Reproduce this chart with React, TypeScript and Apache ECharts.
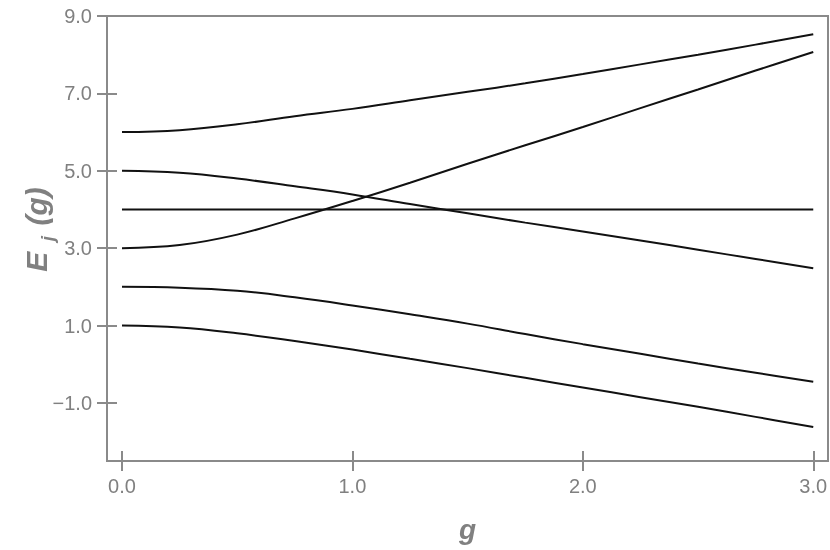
import React, { useEffect, useRef } from "react";
import * as echarts from "echarts";

const gValues = [0, 0.25, 0.5, 0.75, 1, 1.25, 1.5, 1.75, 2, 2.25, 2.5, 2.75, 3];
const level1 = [1.0, 0.95, 0.8, 0.6, 0.38, 0.14, -0.1, -0.35, -0.6, -0.85, -1.1, -1.36, -1.62];
const level2 = [2.0, 1.98, 1.9, 1.73, 1.52, 1.29, 1.05, 0.78, 0.52, 0.27, 0.02, -0.22, -0.45];
const level3 = [3.0, 3.08, 3.35, 3.77, 4.22, 4.69, 5.18, 5.66, 6.13, 6.62, 7.1, 7.59, 8.07];
const level4 = [4, 4, 4, 4, 4, 4, 4, 4, 4, 4, 4, 4, 4];
const level5 = [5.0, 4.95, 4.8, 4.6, 4.39, 4.14, 3.9, 3.66, 3.43, 3.2, 2.96, 2.72, 2.48];
const level6 = [6.0, 6.05, 6.2, 6.41, 6.6, 6.82, 7.04, 7.26, 7.5, 7.75, 8.0, 8.26, 8.53];
const levels = [level1, level2, level3, level4, level5, level6];

const xTicks = [0, 1, 2, 3];
const yTicks = [-1, 1, 3, 5, 7, 9];

const GRAY = "#808080";
const AXIS = "#8a8a8a";
const FONT = "Liberation Sans, Arial, sans-serif";

function fmt(v: number) {
  const s = Math.abs(v).toFixed(1);
  return v < 0 ? "\u2212" + s : s;
}

export default function App() {
  const ref = useRef<HTMLDivElement>(null);
  useEffect(() => {
    if (!ref.current) return;
    const chart = echarts.init(ref.current, undefined, { renderer: "svg" });
    const tickStyle = { color: AXIS, width: 2 };
    const titleFont = {
      color: GRAY,
      fontSize: 30,
      fontWeight: "bold",
      fontStyle: "italic",
      fontFamily: FONT,
    };
    chart.setOption({
      animation: false,
      grid: {
        left: 107,
        top: 16,
        right: 2,
        bottom: 89,
        containLabel: false,
        outerBoundsMode: "none",
        show: true,
        borderColor: AXIS,
        borderWidth: 2,
        backgroundColor: "transparent",
      },
      xAxis: {
        type: "value",
        min: -0.065,
        max: 3.064,
        splitLine: { show: false },
        position: "bottom",
        offset: -10,
        axisLine: { show: false, onZero: false },
        axisTick: { show: true, inside: false, length: 20, customValues: xTicks, lineStyle: tickStyle },
        axisLabel: {
          customValues: xTicks,
          formatter: (v: number) => fmt(v),
          color: GRAY,
          fontSize: 20,
          fontFamily: FONT,
          margin: 25,
        },
        name: "g",
        nameLocation: "middle",
        nameGap: 64,
        nameMoveOverlap: false,
        nameTextStyle: { ...titleFont, fontSize: 28 },
      },
      yAxis: {
        type: "value",
        min: -2.5,
        max: 9,
        splitLine: { show: false },
        position: "left",
        offset: -10,
        axisLine: { show: false, onZero: false },
        axisTick: { show: true, inside: false, length: 20, customValues: yTicks, lineStyle: tickStyle },
        axisLabel: {
          customValues: yTicks,
          formatter: (v: number) => fmt(v),
          color: GRAY,
          fontSize: 20,
          fontFamily: FONT,
          margin: 25,
        },
        name: "{p| }{a|E}{s|  j  }{a|(g)}",
        nameLocation: "middle",
        nameRotate: 90,
        nameGap: 66,
        nameMoveOverlap: false,
        nameTextStyle: {
          color: GRAY,
          rich: {
            p: { width: 18, fontSize: 10 },
            a: titleFont,
            s: {
              ...titleFont,
              fontSize: 19,
              verticalAlign: "bottom",
              padding: [0, 0, -6, 0],
            },
          },
        },
      },
      series: levels.map((lv, i) => ({
        name: "E" + (i + 1),
        type: "line",
        data: gValues.map((g, k) => [g, lv[k]]),
        smooth: 0.4,
        showSymbol: false,
        symbol: "none",
        lineStyle: { color: "#111", width: 2 },
        z: 3,
      })),
    });
    return () => chart.dispose();
  }, []);
  return (
    <div
      ref={ref}
      style={{ position: "fixed", left: 0, top: 0, width: 830, height: 550 }}
    />
  );
}
